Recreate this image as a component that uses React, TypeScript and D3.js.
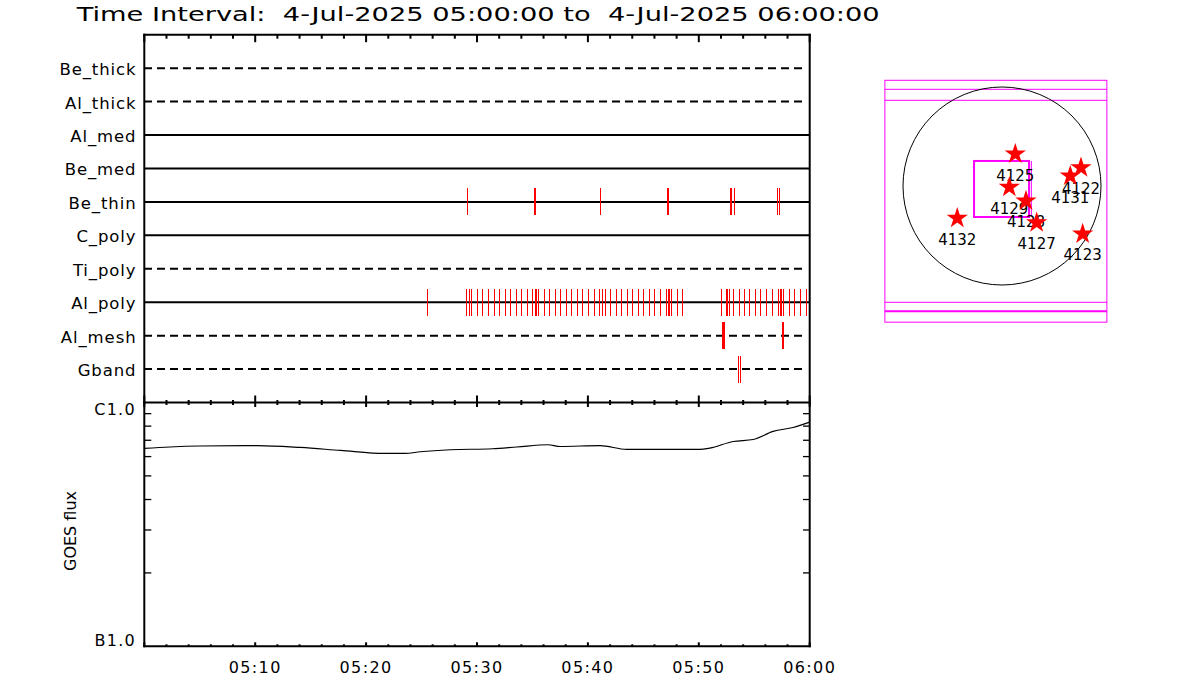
import React from 'react';
import * as d3 from 'd3';

// ---------------- data ----------------
const T0 = Date.UTC(2025, 6, 4, 5, 0, 0);
const toDate = (m: number) => new Date(T0 + m * 60000);

const titleText = 'Time Interval:  4-Jul-2025 05:00:00 to  4-Jul-2025 06:00:00';
const rowNames = ['Be_thick', 'Al_thick', 'Al_med', 'Be_med', 'Be_thin', 'C_poly', 'Ti_poly', 'Al_poly', 'Al_mesh', 'Gband'];
const dashedRows = ['Be_thick', 'Al_thick', 'Ti_poly', 'Al_mesh', 'Gband'];

// event times, minutes after 05:00
const beThinEvents = [29.13, 35.14, 35.23, 41.11, 47.12, 47.21, 52.82, 52.91, 53.18, 57.05, 57.23];
const alPolyEvents = [
  25.52, 29.04, 29.28, 29.46, 30.03, 30.48, 31.02, 31.56, 32.01, 32.55, 33.0, 33.54, 33.99, 34.53,
  34.98, 35.25, 35.34, 35.5, 36.06, 36.51, 37.05, 37.5, 38.05, 38.5, 39.04, 39.49, 40.03, 40.57,
  41.02, 41.29, 41.56, 42.01, 42.55, 43.0, 43.54, 43.99, 44.53, 44.98, 45.52, 45.97, 46.51, 47.05,
  47.23, 47.32, 47.5, 48.05, 48.5, 52.01, 52.46, 52.58, 52.7, 53.09, 53.63, 54.08, 54.53, 55.07,
  55.52, 56.06, 56.6, 57.14, 57.32, 57.45, 57.59, 58.13, 58.58, 59.12, 59.67,
];
const alMeshEvents = [52.1, 52.19, 52.28, 57.5, 57.59];
const gbandEvents = [53.51, 53.69];

// GOES flux (W/m^2)
const goesMinutes = [0, 2.3, 5.0, 10.2, 14.1, 17.7, 21.7, 23.5, 24.9, 27.6, 31.4, 33.6, 36.4, 37.5, 41.1, 43.5, 50.1, 51.0, 53.1, 54.9, 56.7, 58.5, 60];
const goesFlux = [
  6.48e-6, 6.57e-6, 6.63e-6, 6.66e-6, 6.54e-6, 6.36e-6, 6.18e-6, 6.18e-6, 6.28e-6, 6.4e-6, 6.46e-6,
  6.57e-6, 6.71e-6, 6.6e-6, 6.66e-6, 6.42e-6, 6.42e-6, 6.5e-6, 6.92e-6, 7.05e-6, 7.61e-6, 7.9e-6, 8.31e-6,
];
const fluxTickValues = [1e-6, 1e-5];
const fluxTickLabels = ['B1.0', 'C1.0'];

// solar map (arcsec)
const regionIds = ['4125', '4129', '4128', '4127', '4122', '4131', '4123', '4132'];
const regionX = [127, 70, 229, 331, 754, 652, 770, -427];
const regionY = [305, -12, -143, -350, 175, 95, -458, -308];
const sunRadius = 945;
const fovX = [-267, 258];
const fovY = [239, -296];
const mapBoxX = [-1118, 1001];
const mapBoxY = [1009, -1300];
const stripY = [923, 818, -1110, -1196];

// ---------------- component ----------------
const FONT = 'DejaVu Sans, Liberation Sans, sans-serif';

export default function App() {
  const W = 1200, H = 700;
  const x = d3.scaleUtc().domain([toDate(0), toDate(60)]).range([144.3, 809.7]);
  const topY0 = 34.7, midY = 402.5, botY = 646.3;
  const rowY = d3.scalePoint<string>().domain(rowNames).range([topY0, midY]).padding(1);
  const yLog = d3.scaleLog().domain([1e-6, 1e-5]).range([botY, midY]);

  const rowEvents: Record<string, number[]> = {
    Be_thin: beThinEvents,
    Al_poly: alPolyEvents,
    Al_mesh: alMeshEvents,
    Gband: gbandEvents,
  };

  const minorTicks = x.ticks(d3.utcMinute.every(2)!);
  const isMajor = (d: Date) => d.getUTCMinutes() % 10 === 0;
  const labelTicks = x.ticks(d3.utcMinute.every(10)!).filter((d) => +d !== T0);
  const fmt = d3.utcFormat('%H:%M');

  const goesData = goesMinutes.map((m, i) => ({ t: toDate(m), f: goesFlux[i] }));
  const line = d3.line<{ t: Date; f: number }>().x((d) => x(d.t)).y((d) => yLog(d.f)).curve(d3.curveMonotoneX);

  const logMinor = d3.range(2, 10).map((k) => k * 1e-6);

  // solar map scales
  const sx = d3.scaleLinear().domain([-sunRadius, sunRadius]).range([903, 1101]);
  const sy = d3.scaleLinear().domain([-sunRadius, sunRadius]).range([285, 87]);
  const star = d3.symbol().type(d3.symbolStar).size(140)();

  const px = (v: number) => Math.round(v) + 0.5;

  return (
    <div style={{ position: 'absolute', left: 0, top: 0, width: W, height: H, background: '#fff' }}>
      <svg width={W} height={H} style={{ display: 'block', fontFamily: FONT }}>
        <rect x={0} y={0} width={W} height={H} fill="#fff" />
        <text x={76.7} y={21.3} fontSize={19} textLength={803} lengthAdjust="spacingAndGlyphs" fill="#000" style={{ whiteSpace: 'pre' }}>
          {titleText}
        </text>

        {/* row lines */}
        {rowNames.map((r) => (
          <g key={r}>
            <line
              x1={144} x2={dashedRows.includes(r) ? 806 : 810}
              y1={rowY(r)} y2={rowY(r)}
              stroke="#000" strokeWidth={2}
              strokeDasharray={dashedRows.includes(r) ? '8 5' : undefined}
            />
            <text x={136.5} y={rowY(r)! + 7} textAnchor="end" fontSize={16.5} letterSpacing={0.9} fill="#000">
              {r}
            </text>
          </g>
        ))}

        {/* events */}
        {rowNames.map((r) =>
          (rowEvents[r] || []).map((m, i) => (
            <line key={r + i} x1={px(x(toDate(m)))} x2={px(x(toDate(m)))}
              y1={rowY(r)! - 13.5} y2={rowY(r)! + 13.5}
              stroke="#ff0000" strokeWidth={1} shapeRendering="crispEdges" />
          ))
        )}

        {/* frames */}
        <g stroke="#000" strokeWidth={2} fill="none">
          <line x1={143.3} x2={810.7} y1={topY0} y2={topY0} />
          <line x1={143.3} x2={810.7} y1={midY} y2={midY} />
          <line x1={143.3} x2={810.7} y1={botY} y2={botY} />
          <line x1={x.range()[0]} x2={x.range()[0]} y1={topY0 - 1} y2={botY + 1} />
          <line x1={x.range()[1]} x2={x.range()[1]} y1={topY0 - 1} y2={botY + 1} />
        </g>

        {/* time ticks */}
        <g stroke="#000" strokeWidth={2}>
          {minorTicks.map((d, i) => {
            const xx = x(d);
            const maj = isMajor(d);
            return (
              <g key={i}>
                <line x1={xx} x2={xx} y1={topY0} y2={topY0 + (maj ? 7.5 : 4)} />
                <line x1={xx} x2={xx} y1={midY - (maj ? 7 : 2.5)} y2={midY + (maj ? 4.5 : 2.5)} />
                <line x1={xx} x2={xx} y1={botY} y2={botY - (maj ? 4 : 2)} />
              </g>
            );
          })}
        </g>
        {labelTicks.map((d, i) => (
          <text key={i} x={x(d)} y={673.3} textAnchor="middle" fontSize={16} letterSpacing={1.4} fill="#000">
            {fmt(d)}
          </text>
        ))}

        {/* GOES flux panel */}
        <g stroke="#000" strokeWidth={1.3}>
          {logMinor.map((v, i) => (
            <g key={i}>
              <line x1={144.3} x2={151.3} y1={yLog(v)} y2={yLog(v)} />
              <line x1={809.7} x2={803} y1={yLog(v)} y2={yLog(v)} />
            </g>
          ))}
        </g>
        <path d={line(goesData)!} fill="none" stroke="#000" strokeWidth={1.2} />
        {fluxTickValues.map((v, i) => (
          <text key={i} x={136} y={i === 0 ? yLog(v) : yLog(v) + 12.7} textAnchor="end" fontSize={16} letterSpacing={1.3} fill="#000">
            {fluxTickLabels[i]}
          </text>
        ))}
        <text transform={`translate(75.5, 531) rotate(-90)`} textAnchor="middle" fontSize={16} fill="#000">
          GOES flux
        </text>

        {/* solar map */}
        <g fill="none" stroke="#ff00ff" strokeWidth={1}>
          <rect x={sx(mapBoxX[0])} y={sy(mapBoxY[0])} width={sx(mapBoxX[1]) - sx(mapBoxX[0])} height={sy(mapBoxY[1]) - sy(mapBoxY[0])} />
          {stripY.map((v, i) => (
            <line key={i} x1={sx(mapBoxX[0])} x2={sx(mapBoxX[1])} y1={sy(v)} y2={sy(v)} strokeWidth={i === 3 ? 2 : 1} />
          ))}
        </g>
        <circle cx={sx(0)} cy={sy(0)} r={sx(sunRadius) - sx(0)} fill="none" stroke="#000" strokeWidth={1} />
        <g fill="none" stroke="#ff00ff" strokeWidth={2}>
          <rect x={sx(fovX[0])} y={sy(fovY[0])} width={sx(fovX[1]) - sx(fovX[0])} height={sy(fovY[1]) - sy(fovY[0])} />
          <line x1={sx(fovX[1]) + 2.3} x2={sx(fovX[1]) + 2.3} y1={sy(fovY[0])} y2={sy(fovY[1])} strokeWidth={1} />
        </g>
        {regionIds.map((id, i) => (
          <g key={id}>
            <path d={star!} transform={`translate(${sx(regionX[i])},${sy(regionY[i])})`} fill="#ff0000" />
            <text x={sx(regionX[i])} y={sy(regionY[i]) + 26.5} textAnchor="middle" fontSize={15} fill="#000">
              {id}
            </text>
          </g>
        ))}
      </svg>
    </div>
  );
}
